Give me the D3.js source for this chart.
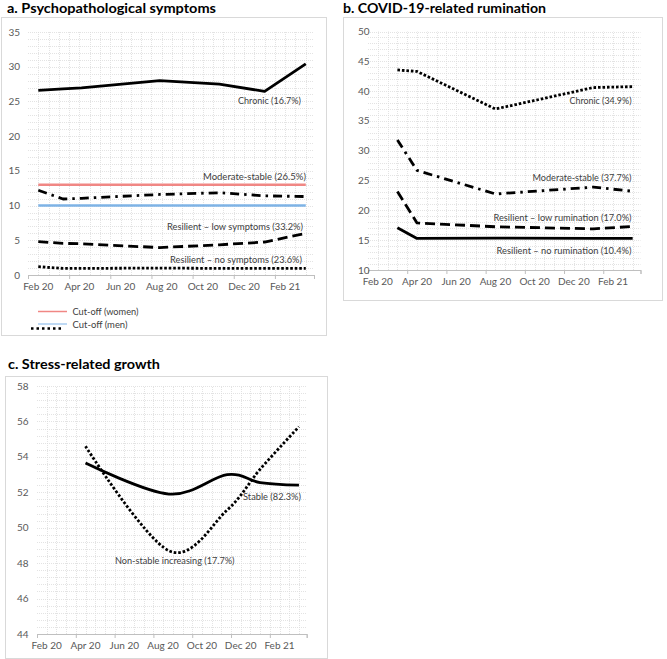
<!DOCTYPE html>
<html><head><meta charset="utf-8">
<script src="https://cdn.jsdelivr.net/npm/d3@7"></script>
<style>
body{margin:0;background:#fff;}
text{font-family:Lato,"Open Sans",sans-serif;}
</style>
</head><body>
<svg id="chart" width="667" height="659"></svg>
<script>
// ---------- data ----------
const tickMonths = [1, 3, 5, 7, 9, 11, 13];
const tickLabels = ["Feb 20", "Apr 20", "Jun 20", "Aug 20", "Oct 20", "Dec 20", "Feb 21"];

// Panel a: months since Jan 2020 (1 = Feb 20)
const aTimes      = [1, 2.2, 3.1, 6.9, 9.8, 12, 14];
const aChronic    = [26.6, 26.8, 26.95, 28.0, 27.5, 26.45, 30.4];
const aModerate   = [12.2, 10.95, 11.05, 11.6, 11.85, 11.4, 11.3];
const aLowSymp    = [4.8, 4.55, 4.5, 3.95, 4.35, 4.75, 6.0];
const aNoSymp     = [1.2, 0.95, 0.95, 1.0, 0.95, 0.95, 0.95];
const aCutTimes   = [1, 14];
const aCutWomen   = [13, 13];
const aCutMen     = [10, 10];
const aYTicks     = [0, 5, 10, 15, 20, 25, 30, 35];
const aLabels     = ["Chronic (16.7%)", "Moderate-stable (26.5%)", "Resilient \u2013 low symptoms (33.2%)", "Resilient \u2013 no symptoms (23.6%)"];
const aLegend     = ["Cut-off (women)", "Cut-off (men)"];

// Panel b
const bTimes      = [2, 3, 7, 12, 14];
const bChronic    = [43.55, 43.3, 37.0, 40.6, 40.75];
const bModerate   = [31.8, 26.7, 22.75, 23.9, 23.2];
const bLowRum     = [23.15, 17.9, 17.25, 16.9, 17.3];
const bNoRum      = [17.1, 15.3, 15.35, 15.3, 15.3];
const bYTicks     = [10, 15, 20, 25, 30, 35, 40, 45, 50];
const bLabels     = ["Chronic (34.9%)", "Moderate-stable (37.7%)", "Resilient \u2013 low rumination (17.0%)", "Resilient \u2013 no rumination (10.4%)"];

// Panel c
const cTimes      = [3, 7.3, 10.3, 12, 14];
const cStable     = [53.65, 51.9, 53.0, 52.55, 52.4];
const cNonStable  = [54.6, 48.7, 51.0, 53.3, 55.7];
const cYTicks     = [44, 46, 48, 50, 52, 54, 56, 58];
const cLabels     = ["Stable (82.3%)", "Non-stable increasing (17.7%)"];

const titles = ["a. Psychopathological symptoms", "b. COVID-19-related rumination", "c. Stress-related growth"];

// ---------- styles ----------
const STYLE = {
  solid:   {dash: null,          w: 2.8},
  dashdot: {dash: "9,5,2.5,5",   w: 2.8},
  dashed:  {dash: "10,5",        w: 2.8},
  dotted:  {dash: "2.6,1.9",     w: 2.8}
};

const svg = d3.select("#chart");

function panel(o) {
  const g = svg.append("g");
  g.append("rect").attr("x", o.frame[0] + 0.5).attr("y", o.frame[1] + 0.5)
    .attr("width", o.frame[2] - o.frame[0]).attr("height", o.frame[3] - o.frame[1])
    .attr("fill", "#fff").attr("stroke", "#D9D9D9").attr("stroke-width", 1);
  g.append("text").attr("x", o.title.x).attr("y", o.title.y)
    .attr("font-size", 14).attr("font-weight", "bold").attr("fill", "#000")
    .attr("textLength", o.title.w).attr("lengthAdjust", "spacingAndGlyphs")
    .text(o.title.text);

  const x = d3.scaleLinear().domain([0.5, 14.4]).range([o.x0, o.x1]);
  const y = d3.scaleLinear().domain(o.ydom).range([o.y0, o.y1]);

  // grid
  const grid = g.append("g").attr("stroke", "#DCDCDC").attr("stroke-width", 0.8).attr("stroke-dasharray", "1,1");
  const ys = d3.range(o.ydom[0] + o.yminor, o.ydom[1] + 1e-6, o.yminor);
  grid.selectAll("line.h").data(ys).join("line")
    .attr("x1", o.x0).attr("x2", o.x1)
    .attr("y1", d => Math.round(y(d)) + 0.5).attr("y2", d => Math.round(y(d)) + 0.5);
  const xs = d3.range(0.5 + o.xminor, 14.4 + 1e-6, o.xminor);
  grid.selectAll("line.v").data(xs).join("line")
    .attr("y1", o.y0).attr("y2", o.y1)
    .attr("x1", d => Math.round(x(d)) + 0.5).attr("x2", d => Math.round(x(d)) + 0.5);

  // x axis
  const xa = g.append("g").attr("transform", `translate(0,${o.y0})`)
    .call(d3.axisBottom(x).tickValues(tickMonths.map(m => m - 0.5).concat([14.4])).tickSize(4).tickFormat(""));
  xa.select(".domain").attr("stroke", "#BFBFBF");
  xa.selectAll(".tick line").attr("stroke", "#BFBFBF");
  g.selectAll("text.xl").data(tickMonths).join("text").attr("class", "xl")
    .attr("x", d => x(d)).attr("y", o.y0 + 15).attr("text-anchor", "middle")
    .attr("font-size", 10).attr("fill", "#595959")
    .text((d, i) => tickLabels[i]);
  // y labels
  g.selectAll("text.yl").data(o.yticks).join("text").attr("class", "yl")
    .attr("x", o.ylabX).attr("y", d => y(d) + 3.5).attr("text-anchor", "end")
    .attr("font-size", 10).attr("fill", "#595959").text(d => d);

  // series
  const line = d3.line().x(d => x(d[0])).y(d => y(d[1]));
  o.series.forEach(s => {
    const pts = s.t.map((t, i) => [t, s.v[i]]);
    const st = STYLE[s.style] || {};
    line.curve(o.smooth ? d3.curveCardinal.tension(0) : d3.curveLinear);
    g.append("path").attr("d", line(pts)).attr("fill", "none")
      .attr("stroke", s.color || "#000").attr("stroke-width", s.w || st.w)
      .attr("stroke-dasharray", st.dash).attr("stroke-linejoin", "round");
  });
  // labels
  o.labels.forEach(l => {
    g.append("text").attr("x", l.x).attr("y", l.y).attr("text-anchor", "end")
      .attr("font-size", 10).attr("fill", "#404040")
      .attr("textLength", l.w).attr("lengthAdjust", "spacingAndGlyphs").text(l.text);
  });
  return {g, x, y};
}

// Panel a
const pa = panel({
  frame: [1, 17, 326, 335], title: {text: titles[0], x: 7, y: 13, w: 209},
  x0: 28, x1: 314, y0: 275, y1: 32, ydom: [0, 35], yminor: 1, xminor: 0.5,
  yticks: aYTicks, ylabX: 20, smooth: false,
  series: [
    {t: aCutTimes, v: aCutWomen, style: "solid", color: "#F08784", w: 2.5},
    {t: aCutTimes, v: aCutMen, style: "solid", color: "#7EB3E6", w: 2.5},
    {t: aTimes, v: aChronic, style: "solid"},
    {t: aTimes, v: aModerate, style: "dashdot"},
    {t: aTimes, v: aLowSymp, style: "dashed"},
    {t: aTimes, v: aNoSymp, style: "dotted"}
  ],
  labels: [
    {text: aLabels[0], x: 301, y: 104, w: 63},
    {text: aLabels[1], x: 306, y: 179.5, w: 103},
    {text: aLabels[2], x: 303, y: 230, w: 136},
    {text: aLabels[3], x: 302, y: 262.5, w: 132}
  ]
});
// legend a
const lg = svg.append("g");
lg.append("line").attr("x1", 38).attr("x2", 67).attr("y1", 311.5).attr("y2", 311.5).attr("stroke", "#F08784").attr("stroke-width", 1.5);
lg.append("line").attr("x1", 38).attr("x2", 67).attr("y1", 324).attr("y2", 324).attr("stroke", "#A9CDF0").attr("stroke-width", 1.5);
lg.append("line").attr("x1", 31).attr("x2", 61).attr("y1", 328.5).attr("y2", 328.5).attr("stroke", "#000").attr("stroke-width", 2.5).attr("stroke-dasharray", "2.5,3");
lg.append("text").attr("x", 72.5).attr("y", 315).attr("font-size", 10).attr("fill", "#404040").attr("textLength", 66).attr("lengthAdjust", "spacingAndGlyphs").text(aLegend[0]);
lg.append("text").attr("x", 72.5).attr("y", 327.5).attr("font-size", 10).attr("fill", "#404040").attr("textLength", 55).attr("lengthAdjust", "spacingAndGlyphs").text(aLegend[1]);

// Panel b
panel({
  frame: [343, 17, 662, 300], title: {text: titles[1], x: 343, y: 13, w: 203},
  x0: 368, x1: 640.5, y0: 270, y1: 31.5, ydom: [10, 50], yminor: 1, xminor: 0.5,
  yticks: bYTicks, ylabX: 369.5, smooth: false,
  series: [
    {t: bTimes, v: bChronic, style: "dotted"},
    {t: bTimes, v: bModerate, style: "dashdot"},
    {t: bTimes, v: bLowRum, style: "dashed"},
    {t: bTimes, v: bNoRum, style: "solid"}
  ],
  labels: [
    {text: bLabels[0], x: 631.5, y: 104, w: 62},
    {text: bLabels[1], x: 631.5, y: 180.5, w: 99},
    {text: bLabels[2], x: 631.5, y: 220.5, w: 138},
    {text: bLabels[3], x: 631.5, y: 253.5, w: 135}
  ]
});

// Panel c
panel({
  frame: [5, 376, 327, 658], title: {text: titles[2], x: 8, y: 369, w: 152},
  x0: 37, x1: 306.7, y0: 634, y1: 386, ydom: [44, 58], yminor: 0.4, xminor: 0.5,
  yticks: cYTicks, ylabX: 28.5, smooth: true,
  series: [
    {t: cTimes, v: cStable, style: "solid"},
    {t: cTimes, v: cNonStable, style: "dotted"}
  ],
  labels: [
    {text: cLabels[0], x: 301, y: 499.5, w: 58},
    {text: cLabels[1], x: 234.5, y: 563.5, w: 119.5}
  ]
});
</script>
</body></html>
